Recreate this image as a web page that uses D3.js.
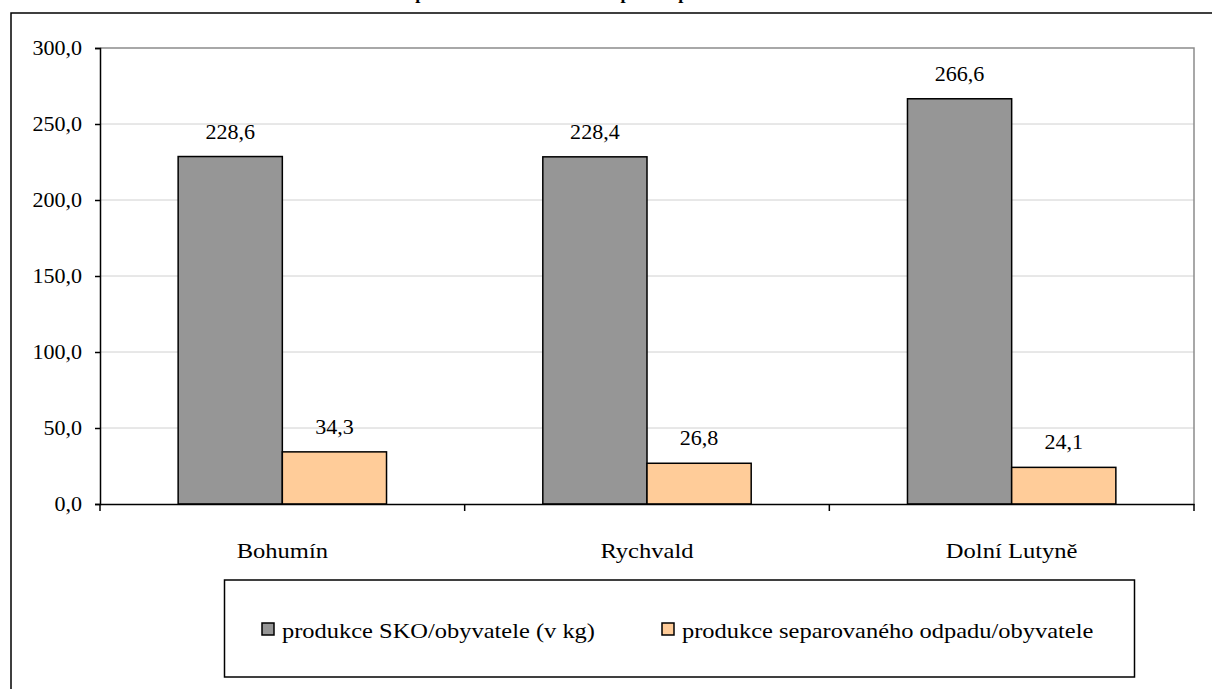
<!DOCTYPE html>
<meta charset="utf-8">
<body style="margin:0;background:#fff">
<style>
  .grid line { stroke: #d0d0d0; stroke-width: 1; }
</style>
<svg width="1212" height="689"></svg>
<script src="https://d3js.org/d3.v7.min.js"></script>
<script>

// Data
var towns = ["Bohumín", "Rychvald", "Dolní Lutyně"];
var series = ["produkce SKO/obyvatele (v kg)", "produkce separovaného odpadu/obyvatele"];
var sko = [228.6, 228.4, 266.6];
var separovany = [34.3, 26.8, 24.1];
var yTicks = [0, 50, 100, 150, 200, 250, 300];
var colors = ["#969696", "#ffcc99"];

var svg = d3.select("svg");
var fmt = function (v) { return d3.format(".1f")(v).replace(".", ","); };
var serif = "'Liberation Serif', 'Times New Roman', 'DejaVu Serif', serif";

// text with a little horizontal stretch, like the original
function label(g, x, yy, txt, anchor, size, sx, weight) {
  g.append("text")
    .attr("transform", "translate(" + x + "," + yy + ") scale(" + sx + ",1)")
    .attr("text-anchor", anchor)
    .attr("font-family", serif)
    .attr("font-size", size)
    .attr("font-weight", weight || "normal")
    .attr("fill", "#000")
    .text(txt);
}

// outer frame and cut off title (only the descenders show)
svg.append("rect")
  .attr("x", 11).attr("y", 13).attr("width", 1300).attr("height", 800)
  .attr("fill", "none").attr("stroke", "#000").attr("stroke-width", 1.5);
label(svg, 358, -1, "Měrná produkce komunálního odpadu v porovnání obcí", "start", 19, 0.96, "bold");

// scales
var plotL = 100, plotR = 1194, plotT = 48, plotB = 504;
var x0 = d3.scaleBand().domain(towns).range([plotL, plotR]).padding(0);
var x1 = d3.scaleBand().domain([0, 1]).range([0, x0.bandwidth()]).paddingInner(0).paddingOuter(0.75);
var y = d3.scaleLinear().domain([0, 300]).range([plotB, plotT]);

// gridlines
svg.append("g").attr("class", "grid")
  .selectAll("line").data(yTicks.filter(function (d) { return d > 0 && d < 300; }))
  .enter().append("line")
    .attr("x1", plotL).attr("x2", plotR)
    .attr("y1", function (d) { return y(d); })
    .attr("y2", function (d) { return y(d); });

// plot border top/right
svg.append("path")
  .attr("d", "M" + plotL + "," + y(300) + "H" + plotR + "V" + plotB)
  .attr("fill", "none").attr("stroke", "#8c8c8c").attr("stroke-width", 1.5);

// bars
var rows = towns.map(function (t, i) { return { town: t, vals: [sko[i], separovany[i]] }; });
var groups = svg.selectAll(".town").data(rows).enter().append("g")
  .attr("transform", function (d) { return "translate(" + x0(d.town) + ",0)"; });
groups.selectAll("rect").data(function (d) { return d.vals; }).enter().append("rect")
  .attr("x", function (d, i) { return x1(i); })
  .attr("y", function (d) { return y(d); })
  .attr("width", x1.bandwidth())
  .attr("height", function (d) { return y(0) - y(d); })
  .attr("fill", function (d, i) { return colors[i]; })
  .attr("stroke", "#000").attr("stroke-width", 1.5);
groups.each(function (d) {
  var g = d3.select(this);
  d.vals.forEach(function (v, i) {
    label(g, x1(i) + x1.bandwidth() / 2, y(v) - 18, fmt(v), "middle", 21, 1.05);
  });
});

// y axis
var yAxis = svg.append("g").attr("transform", "translate(" + plotL + ",0)")
  .call(d3.axisLeft(y).tickValues(yTicks).tickSize(5).tickFormat(""));
yAxis.select(".domain").attr("stroke", "#000").attr("stroke-width", 1.5);
yAxis.selectAll(".tick line").attr("stroke", "#000").attr("stroke-width", 1.5);
yTicks.forEach(function (t) {
  label(svg, 82, y(t) + 7, fmt(t), "end", 21, 1.05);
});

// x axis
var xAxis = svg.append("g").attr("transform", "translate(0," + plotB + ")")
  .call(d3.axisBottom(x0).tickSize(0).tickFormat(""));
xAxis.select(".domain").attr("stroke", "#000").attr("stroke-width", 1.5);
var xTicks = towns.map(function (t) { return x0(t); }).concat([plotR]);
xAxis.selectAll(".sep").data(xTicks).enter().append("line")
  .attr("x1", function (d) { return d; }).attr("x2", function (d) { return d; })
  .attr("y1", 0).attr("y2", 7).attr("stroke", "#000").attr("stroke-width", 1.5);
towns.forEach(function (t) {
  label(svg, x0(t) + x0.bandwidth() / 2, 558, t, "middle", 21, 1.17);
});

// legend
var lg = svg.append("g");
lg.append("rect")
  .attr("x", 224.5).attr("y", 580).attr("width", 910).attr("height", 97)
  .attr("fill", "#fff").attr("stroke", "#000").attr("stroke-width", 1.5);
var legendX = [262, 662];
series.forEach(function (s, i) {
  lg.append("rect")
    .attr("x", legendX[i]).attr("y", 623).attr("width", 12).attr("height", 12)
    .attr("fill", colors[i]).attr("stroke", "#000").attr("stroke-width", 1.5);
  label(lg, legendX[i] + 20, 638, s, "start", 21, 1.165);
});
</script>
</body>
